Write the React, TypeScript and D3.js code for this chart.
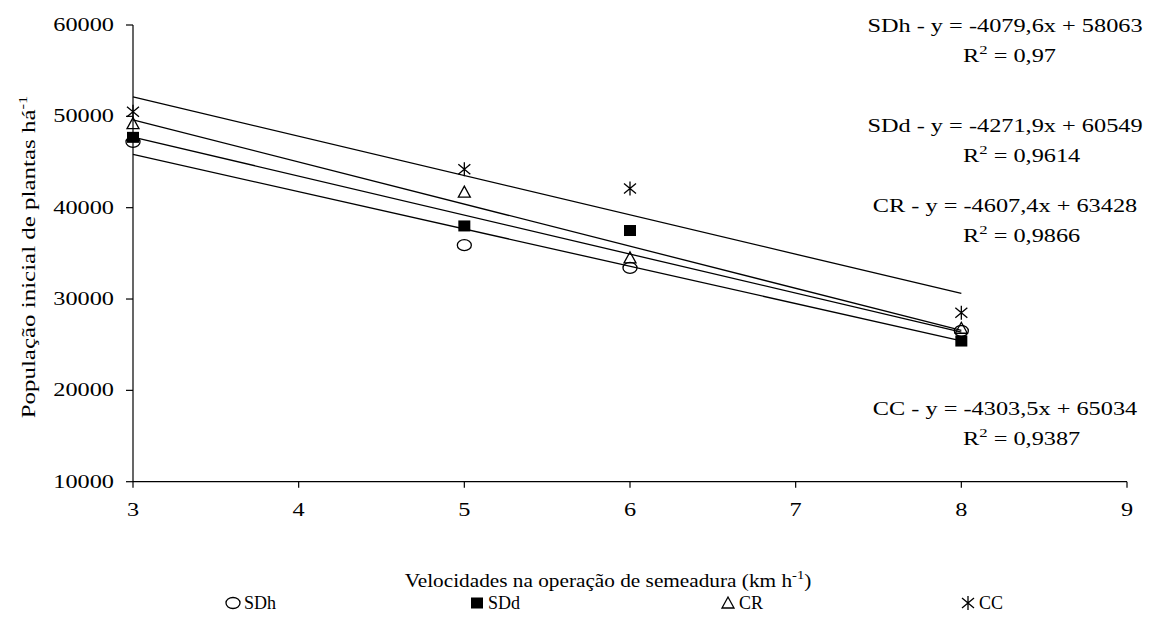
import React, { useEffect, useRef } from 'react'
import * as d3 from 'd3'

const speeds = [3, 5, 6, 8]
const seriesNames = ['SDh', 'SDd', 'CR', 'CC']
const sdhValues = [47200, 35900, 33400, 26500]
const sddValues = [47700, 38000, 37500, 25400]
const crValues = [49200, 41700, 34500, 26800]
const ccValues = [50500, 44200, 42100, 28500]
const slopes = [-4079.6, -4271.9, -4607.4, -4303.5]
const intercepts = [58063, 60549, 63428, 65034]
const eqLabels = ['SDh - y = -4079,6x + 58063', 'SDd - y = -4271,9x + 60549', 'CR - y = -4607,4x + 63428', 'CC - y = -4303,5x + 65034']
const r2Labels = ['0,97', '0,9614', '0,9866', '0,9387']
const yTicks = [10000, 20000, 30000, 40000, 50000, 60000]
const xTicks = [3, 4, 5, 6, 7, 8, 9]

const SX = 1.28
const FONT = '"Liberation Serif", "Times New Roman", serif'

export default function App() {
  const ref = useRef<SVGSVGElement>(null)

  useEffect(() => {
    const svg = d3.select(ref.current)
    svg.selectAll('*').remove()

    const x = d3.scaleLinear().domain([3, 9]).range([133, 1127])
    const y = d3.scaleLinear().domain([10000, 60000]).range([481.7, 25])

    const txt = (g: any, s: string, tx: number, ty: number, anchor = 'middle', size = 19, sx = SX) =>
      g.append('text')
        .attr('transform', `translate(${tx},${ty}) scale(${sx},1)`)
        .attr('text-anchor', anchor)
        .attr('font-family', FONT)
        .attr('font-size', size)
        .attr('fill', '#000')
        .text(s)

    // axes
    svg.append('line').attr('x1', x(3)).attr('x2', x(3)).attr('y1', y(60000)).attr('y2', y(10000))
      .attr('stroke', '#000').attr('stroke-width', 1.2)
    svg.append('line').attr('x1', x(3)).attr('x2', x(9)).attr('y1', y(10000)).attr('y2', y(10000))
      .attr('stroke', '#000').attr('stroke-width', 1.2)

    yTicks.forEach(t => {
      svg.append('line').attr('x1', x(3) - 7).attr('x2', x(3)).attr('y1', y(t)).attr('y2', y(t))
        .attr('stroke', '#000').attr('stroke-width', 1.2)
      txt(svg, String(t), x(3) - 19, y(t) + 6, 'end')
    })
    xTicks.forEach(t => {
      svg.append('line').attr('x1', x(t)).attr('x2', x(t)).attr('y1', y(10000)).attr('y2', y(10000) + 6)
        .attr('stroke', '#000').attr('stroke-width', 1.2)
      txt(svg, String(t), x(t), 516)
    })

    // axis titles
    const xt = txt(svg, 'Velocidades na operação de semeadura (km h', 608, 587, 'middle', 19, 1.12)
    xt.append('tspan').attr('dy', -8).attr('font-size', 13).text('-1')
    xt.append('tspan').attr('dy', 8).text(')')

    const yt = svg.append('text')
      .attr('transform', `translate(35,257) rotate(-90) scale(${SX},1)`)
      .attr('text-anchor', 'middle')
      .attr('font-family', FONT)
      .attr('font-size', 19.5)
      .text('População inicial de plantas há')
    yt.append('tspan').attr('dy', -8).attr('font-size', 13).text('-1')

    // regression lines
    slopes.forEach((b, i) => {
      const fx = (v: number) => intercepts[i] + b * v
      svg.append('path')
        .attr('d', d3.line<number>().x(v => x(v)).y(v => y(fx(v)))([3, 8]))
        .attr('stroke', '#000').attr('stroke-width', 1.3).attr('fill', 'none')
    })

    // markers
    const marker = (g: any, kind: number, cx: number, cy: number) => {
      if (kind === 0) {
        g.append('ellipse').attr('cx', cx).attr('cy', cy).attr('rx', 7).attr('ry', 5.5)
          .attr('fill', 'none').attr('stroke', '#000').attr('stroke-width', 1.3)
      } else if (kind === 1) {
        g.append('rect').attr('x', cx - 6).attr('y', cy - 5.5).attr('width', 12).attr('height', 11).attr('fill', '#000')
      } else if (kind === 2) {
        g.append('path').attr('d', `M${cx - 6},${cy + 5}L${cx + 6},${cy + 5}L${cx},${cy - 6}Z`)
          .attr('fill', 'none').attr('stroke', '#000').attr('stroke-width', 1.3)
      } else {
        g.append('path')
          .attr('d', `M${cx - 6},${cy - 5}L${cx + 6},${cy + 5}M${cx - 6},${cy + 5}L${cx + 6},${cy - 5}M${cx},${cy - 7}L${cx},${cy + 7}`)
          .attr('stroke', '#000').attr('stroke-width', 1.3)
      }
    }
    ;[sdhValues, sddValues, crValues, ccValues].forEach((vals, k) => {
      vals.forEach((v, j) => marker(svg, k, x(speeds[j]), y(v)))
    })

    // equations
    const eqY = [32, 132, 212, 415]
    eqLabels.forEach((s, i) => {
      txt(svg, s, 1005, eqY[i])
      const r = txt(svg, 'R', 999 - 36, eqY[i] + 30, 'start')
      r.append('tspan').attr('dy', -8).attr('font-size', 13).text('2')
      r.append('tspan').attr('dy', 8).text(' = ' + r2Labels[i])
    })

    // legend
    const legX = [233, 477, 728, 968]
    seriesNames.forEach((s, i) => {
      marker(svg, i, legX[i], 603)
      txt(svg, s, legX[i] + 11, 609, 'start', 18, 1)
    })
  }, [])

  return (
    <svg ref={ref} width={1150} height={636} style={{ position: 'absolute', left: 0, top: 0, background: '#fff' }} />
  )
}
